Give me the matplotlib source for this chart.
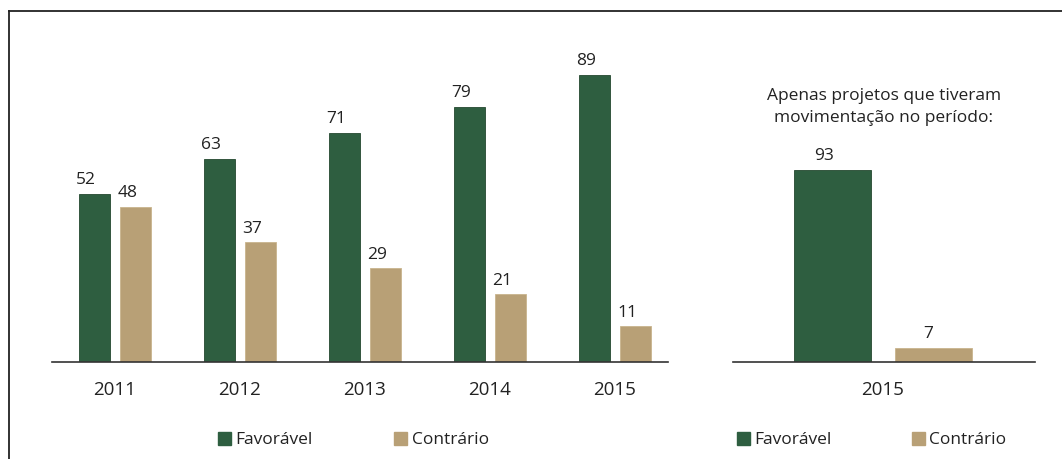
import matplotlib.pyplot as plt
from matplotlib.patches import Patch
from matplotlib.lines import Line2D

plt.rcParams['font.family'] = ['Open Sans', 'DejaVu Sans']

# data
anos = ['2011', '2012', '2013', '2014', '2015']
favoravel = [52, 63, 71, 79, 89]
contrario = [48, 37, 29, 21, 11]
ano_mov = ['2015']
favoravel_mov = [93]
contrario_mov = [7]
titulo_mov = 'Apenas projetos que tiveram\nmovimentação no período:'

verde = '#2E5E40'
bege = '#B8A076'
txt = '#222222'

W, H = 1062, 459
fig = plt.figure(figsize=(W / 100, H / 100), dpi=100)


def box(x0, x1, y_base, y_top):
    # pixel coords -> figure fraction
    return [x0 / W, 1 - y_base / H, (x1 - x0) / W, (y_base - y_top) / H]


# left chart
ax = fig.add_axes(box(52, 668, 362, 39))
x = list(range(len(anos)))
w = 0.248
off = 0.164
ax.bar([i - off for i in x], favoravel, w, color=verde, edgecolor='#24482f', linewidth=0.6)
ax.bar([i + off for i in x], contrario, w, color=bege, edgecolor='#c9b48d', linewidth=0.6)
for i in x:
    ax.annotate(str(favoravel[i]), (i - off - w / 2, favoravel[i]), xytext=(-2, 4),
                textcoords='offset points', ha='left', va='bottom', fontsize=12.5, color=txt)
    ax.annotate(str(contrario[i]), (i + off - w / 2, contrario[i]), xytext=(-2, 4),
                textcoords='offset points', ha='left', va='bottom', fontsize=12.5, color=txt)
ax.set_xlim(-0.504, 4.424)
ax.set_ylim(0, 100)
ax.set_xticks(x)
ax.set_xticklabels(anos, fontsize=13.5, color=txt)
ax.tick_params(axis='x', length=0, pad=14)
ax.set_yticks([])
for s in ['top', 'left', 'right']:
    ax.spines[s].set_visible(False)
ax.spines['bottom'].set_color('#333333')
ax.spines['bottom'].set_linewidth(1.2)
ax.legend(handles=[Patch(color=verde, label='Favorável'), Patch(color=bege, label='Contrário')],
          loc='center left', bbox_to_anchor=((218 - 52) / 616, -0.242), ncol=2, frameon=False,
          fontsize=12.5, handlelength=0.75, handleheight=0.75, handletextpad=0.25,
          columnspacing=4.7, borderaxespad=0, borderpad=0, labelcolor=txt)

# right chart
ax2 = fig.add_axes(box(733, 1035, 362, 39))
ax2.bar([-0.505], favoravel_mov, 0.77, color=verde, edgecolor='#24482f', linewidth=0.6)
ax2.bar([0.505], contrario_mov, 0.77, color=bege, edgecolor='#c9b48d', linewidth=0.6)
ax2.annotate(str(favoravel_mov[0]), (-0.505, favoravel_mov[0]), xytext=(-6, 4),
             textcoords='offset points', ha='center', va='bottom', fontsize=12.5, color=txt)
ax2.annotate(str(contrario_mov[0]), (0.505, contrario_mov[0]), xytext=(-4, 4),
             textcoords='offset points', ha='center', va='bottom', fontsize=12.5, color=txt)
ax2.set_xlim(-1.5, 1.52)
ax2.set_ylim(0, 156.4)
ax2.set_xticks([0])
ax2.set_xticklabels(ano_mov, fontsize=13.5, color=txt)
ax2.tick_params(axis='x', length=0, pad=14)
ax2.set_yticks([])
for s in ['top', 'left', 'right']:
    ax2.spines[s].set_visible(False)
ax2.spines['bottom'].set_color('#333333')
ax2.spines['bottom'].set_linewidth(1.2)
ax2.legend(handles=[Patch(color=verde, label='Favorável'), Patch(color=bege, label='Contrário')],
           loc='center left', bbox_to_anchor=((737 - 733) / 302, -0.242), ncol=2, frameon=False,
           fontsize=12.5, handlelength=0.75, handleheight=0.75, handletextpad=0.25,
           columnspacing=4.6, borderaxespad=0, borderpad=0, labelcolor=txt)
fig.text(884 / W, 1 - 107 / H, titulo_mov, ha='center', va='center', fontsize=12.5,
         color=txt, linespacing=1.45)

# frame
fig.add_artist(Line2D([9 / W, 9 / W], [0, 1 - 10.5 / H], color='#222222', lw=1.3))
fig.add_artist(Line2D([9 / W, 1], [1 - 10.5 / H, 1 - 10.5 / H], color='#222222', lw=1.3))

fig.savefig('out.png', dpi=100)
